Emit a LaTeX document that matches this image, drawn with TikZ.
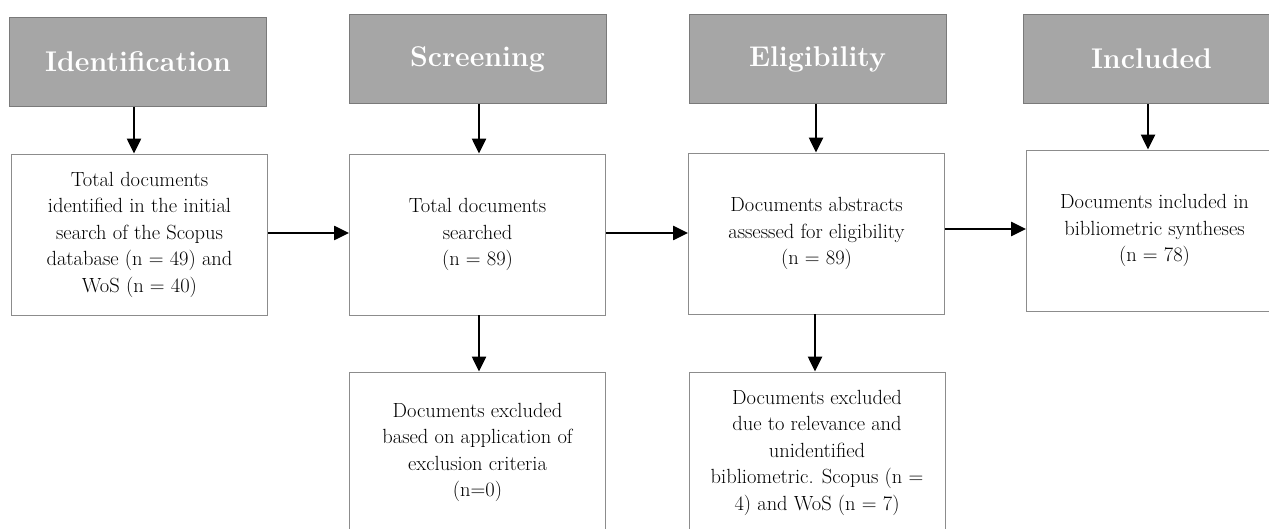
\documentclass[tikz,border=0pt]{standalone}
\usetikzlibrary{arrows.meta}
\definecolor{hdrfill}{HTML}{A6A6A6}
\definecolor{hdrline}{HTML}{7A7A7A}
\definecolor{boxline}{HTML}{8C8C8C}
\tikzset{
  hdr/.style={draw=hdrline, line width=0.9pt, fill=hdrfill, text=white, minimum width=257pt, minimum height=89pt, inner sep=0pt, font=\fontsize{28.5}{32}\selectfont\bfseries},
  wbox/.style={draw=boxline, line width=0.9pt, fill=white, minimum width=256pt, minimum height=161pt, inner sep=0pt, align=center, font=\fontsize{20.5}{26.5}\selectfont},
  arr/.style={line width=2.4pt, -{Triangle[length=15pt,width=14pt]}}
}
\begin{document}
\begin{tikzpicture}[x=1pt,y=-1pt]
\useasboundingbox (0,0) rectangle (1269,529);
\clip (0,0) rectangle (1269,529);
\fill[white] (0,0) rectangle (1269,529);
\node[hdr] (h1) at (138,62) {Identification};
\node[hdr] (h2) at (477.5,59) {Screening};
\node[hdr] (h3) at (817.5,59) {Eligibility};
\node[hdr] (h4) at (1151.5,59) {Included};
\node[wbox] (b1) at (139.5,234.5) {Total documents\\identified in the initial\\search of the Scopus\\database (n = 49) and\\WoS (n = 40)};
\node[wbox] (b2) at (477.5,234.5) {Total documents\\searched\\(n = 89)};
\node[wbox] (b3) at (816.5,233.5) {Documents abstracts\\assessed for eligibility\\(n = 89)};
\node[wbox] (b4) at (1154.5,230.5) {Documents included in\\bibliometric syntheses\\(n = 78)};
\node[wbox] (b5) at (477.5,452.5) {Documents excluded\\based on application of\\exclusion criteria\\(n=0)};
\node[wbox] (b6) at (817,452.5) {Documents excluded\\due to relevance and\\unidentified\\bibliometric. Scopus (n =\\4) and WoS (n = 7)};
\draw[arr] (h1.south -| 134,0) -- (b1.north -| 134,0);
\draw[arr] (h2.south -| 479,0) -- (b2.north -| 479,0);
\draw[arr] (h3.south -| 816,0) -- (b3.north -| 816,0);
\draw[arr] (h4.south -| 1148,0) -- (b4.north -| 1148,0);
\draw[arr] (b1.east |- 0,233) -- (b2.west |- 0,233);
\draw[arr] (b2.east |- 0,233) -- (b3.west |- 0,233);
\draw[arr] (b3.east |- 0,229) -- (b4.west |- 0,229);
\draw[arr] (b2.south -| 479,0) -- (b5.north -| 479,0);
\draw[arr] (b3.south -| 815,0) -- (b6.north -| 815,0);
\end{tikzpicture}
\end{document}
